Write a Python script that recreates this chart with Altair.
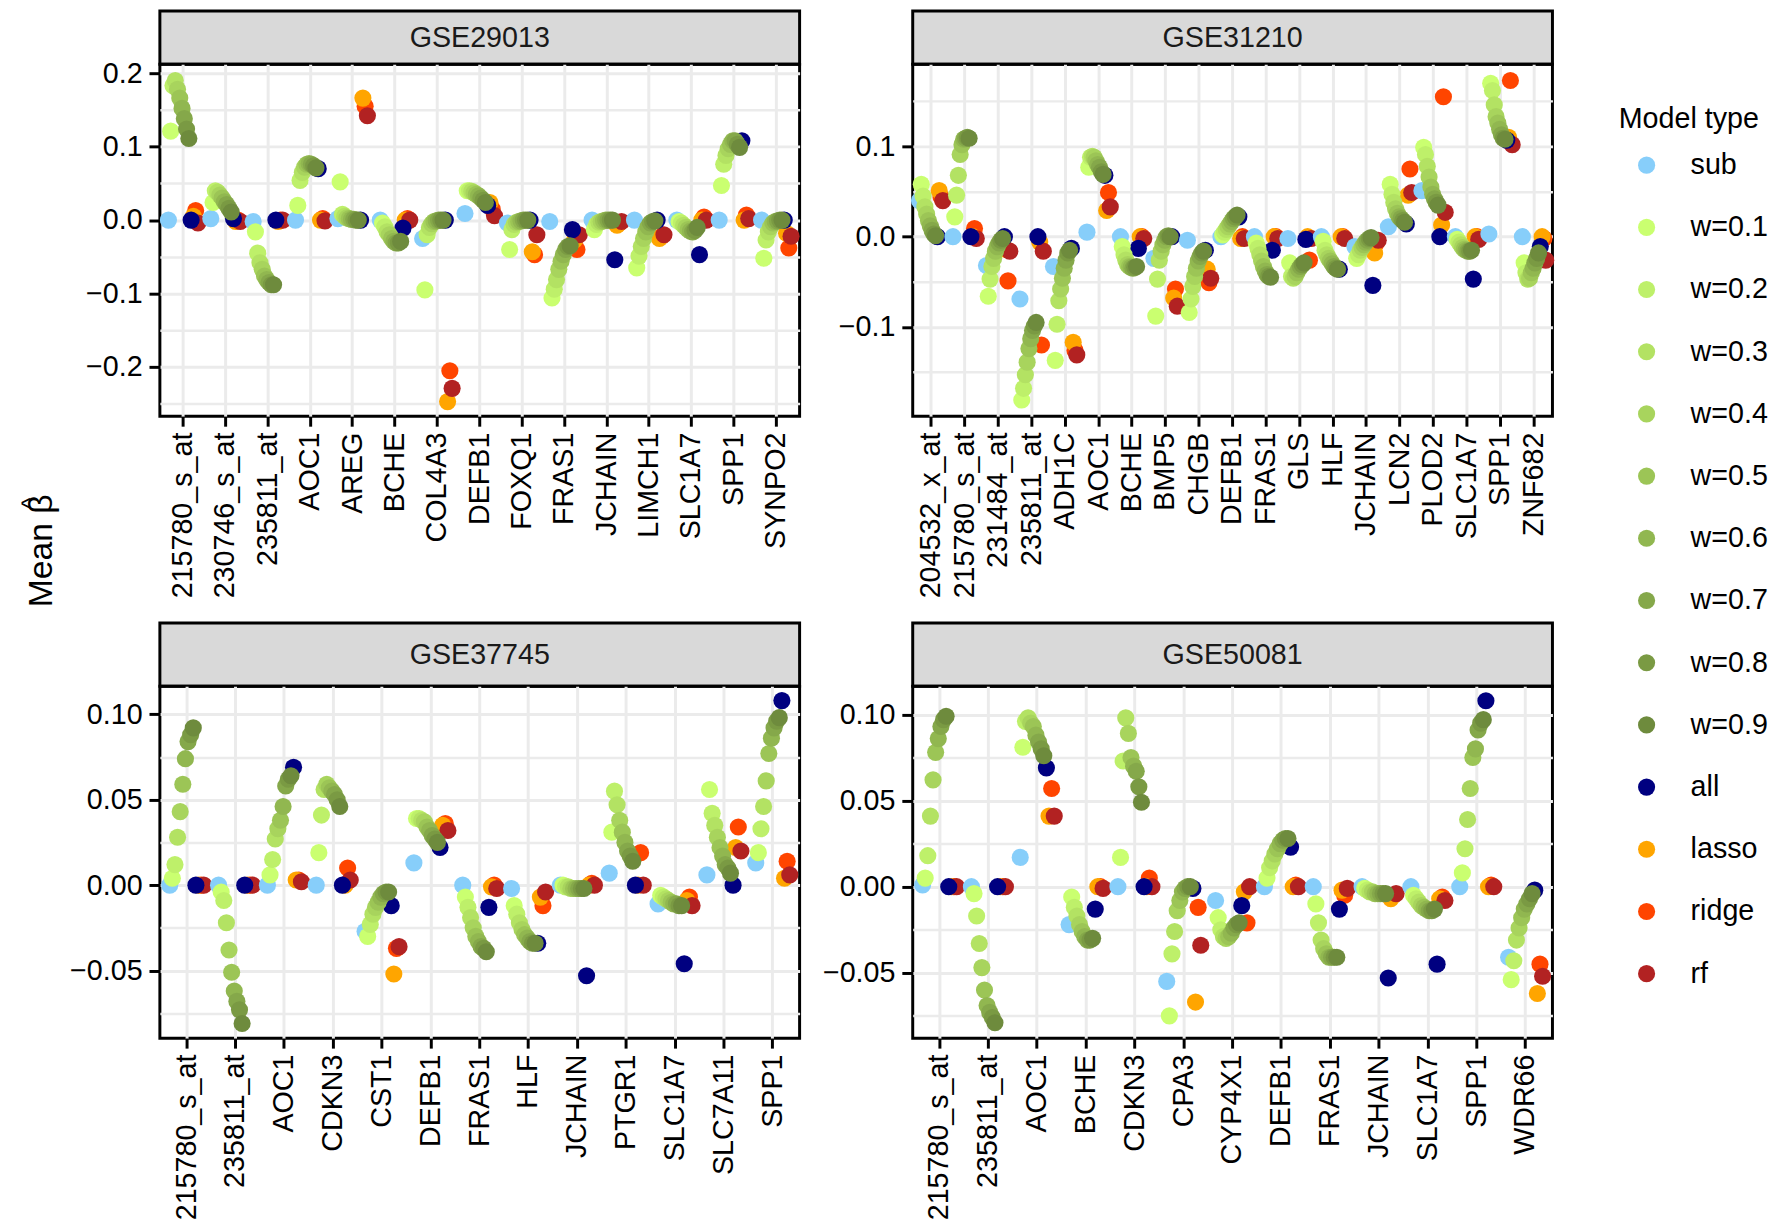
import json
import altair as alt
import pandas as pd

FONT = "Liberation Sans"

MODELS = ["sub", "w=0.1", "w=0.2", "w=0.3", "w=0.4", "w=0.5", "w=0.6", "w=0.7",
          "w=0.8", "w=0.9", "all", "lasso", "ridge", "rf"]
COLORS = ["#87CEFA", "#CAFF70", "#BEF06A", "#B3E263", "#A8D45D", "#9CC556", "#91B750",
          "#85A84A", "#7A9A43", "#6E8B3D", "#000080", "#FFA500", "#FF4500", "#B22222"]
DRAW_ORDER = ["ridge", "lasso", "rf", "all", "sub", "w=0.1", "w=0.2", "w=0.3", "w=0.4",
              "w=0.5", "w=0.6", "w=0.7", "w=0.8", "w=0.9"]

# ---- GSE29013 (values in MODELS order) ----
GSE29013_GENES = ["215780_s_at", "230746_s_at", "235811_at", "AOC1", "AREG", "BCHE", "COL4A3",
                  "DEFB1", "FOXQ1", "FRAS1", "JCHAIN", "LIMCH1", "SLC1A7", "SPP1", "SYNPO2"]
GSE29013_BETA = [
    [0.0, 0.121, 0.183, 0.19, 0.178, 0.166, 0.152, 0.138, 0.124, 0.111, 0.0, 0.005, 0.013, -0.004],
    [0.002, 0.024, 0.04, 0.038, 0.034, 0.03, 0.025, 0.021, 0.016, 0.011, 0.002, -0.002, 0.0, -0.002],
    [-0.002, -0.016, -0.045, -0.058, -0.067, -0.076, -0.081, -0.085, -0.088, -0.088, 0.0, -0.002, 0.0, 0.0],
    [0.0, 0.02, 0.054, 0.065, 0.072, 0.076, 0.077, 0.076, 0.074, 0.071, 0.07, 0.0, 0.002, -0.001],
    [0.002, 0.052, 0.008, 0.005, 0.003, 0.002, 0.001, 0.001, 0.0, 0.0, 0.0, 0.166, 0.155, 0.142],
    [0.0, -0.004, -0.009, -0.016, -0.02, -0.025, -0.029, -0.031, -0.031, -0.029, -0.011, 0.0, 0.002, 0.0],
    [-0.025, -0.095, -0.02, -0.01, -0.005, -0.002, -0.001, 0.0, 0.0, 0.0, 0.0, -0.247, -0.205, -0.229],
    [0.009, 0.04, 0.04, 0.039, 0.037, 0.035, 0.033, 0.03, 0.027, 0.024, 0.02, 0.024, 0.015, 0.006],
    [-0.004, -0.04, -0.013, -0.006, -0.003, -0.002, -0.001, 0.0, 0.0, 0.0, 0.0, -0.043, -0.047, -0.02],
    [-0.002, -0.106, -0.094, -0.081, -0.067, -0.056, -0.047, -0.04, -0.036, -0.035, -0.013, -0.027, -0.04, -0.02],
    [0.0, -0.013, -0.006, -0.003, -0.002, -0.001, 0.0, 0.0, 0.0, 0.0, -0.054, -0.007, -0.004, -0.002],
    [0.0, -0.065, -0.049, -0.036, -0.025, -0.016, -0.009, -0.004, -0.002, -0.001, 0.0, -0.025, -0.022, -0.02],
    [0.0, -0.002, -0.004, -0.007, -0.01, -0.013, -0.015, -0.016, -0.014, -0.01, -0.047, 0.0, 0.004, 0.0],
    [0.0, 0.047, 0.076, 0.088, 0.097, 0.103, 0.108, 0.108, 0.103, 0.099, 0.108, 0.0, 0.007, 0.002],
    [0.0, -0.052, -0.027, -0.016, -0.009, -0.004, -0.002, -0.001, 0.0, 0.0, 0.0, -0.018, -0.038, -0.022],
]

# ---- GSE31210 ----
GSE31210_GENES = ["204532_x_at", "215780_s_at", "231484_at", "235811_at", "ADH1C", "AOC1", "BCHE",
                  "BMP5", "CHGB", "DEFB1", "FRAS1", "GLS", "HLF", "JCHAIN", "LCN2", "PLOD2",
                  "SLC1A7", "SPP1", "ZNF682"]
GSE31210_BETA = [
    [0.04, 0.058, 0.045, 0.033, 0.025, 0.018, 0.012, 0.007, 0.003, 0.001, 0.0, 0.051, 0.044, 0.04],
    [0.0, 0.022, 0.046, 0.068, 0.091, 0.102, 0.108, 0.109, 0.11, 0.109, 0.0, 0.0, 0.009, -0.002],
    [-0.032, -0.066, -0.047, -0.033, -0.024, -0.016, -0.011, -0.007, -0.004, -0.002, 0.0, -0.014, -0.049, -0.016],
    [-0.069, -0.181, -0.168, -0.153, -0.139, -0.124, -0.113, -0.104, -0.099, -0.095, 0.0, -0.006, -0.12, -0.016],
    [-0.033, -0.137, -0.097, -0.071, -0.058, -0.046, -0.035, -0.026, -0.018, -0.015, -0.013, -0.117, -0.126, -0.131],
    [0.005, 0.077, 0.088, 0.089, 0.088, 0.084, 0.08, 0.077, 0.072, 0.069, 0.068, 0.029, 0.049, 0.033],
    [0.0, -0.011, -0.02, -0.026, -0.031, -0.033, -0.034, -0.035, -0.034, -0.033, -0.013, 0.0, 0.0, -0.002],
    [-0.024, -0.088, -0.047, -0.026, -0.016, -0.009, -0.004, 0.0, 0.001, 0.0, 0.0, -0.068, -0.058, -0.077],
    [-0.004, -0.084, -0.069, -0.055, -0.044, -0.035, -0.027, -0.022, -0.018, -0.016, -0.015, -0.036, -0.051, -0.046],
    [0.0, 0.002, 0.005, 0.008, 0.011, 0.014, 0.017, 0.02, 0.022, 0.024, 0.022, -0.002, 0.0, -0.002],
    [0.0, -0.007, -0.013, -0.02, -0.027, -0.033, -0.038, -0.042, -0.044, -0.045, -0.015, 0.0, 0.0, -0.002],
    [-0.002, -0.029, -0.044, -0.046, -0.044, -0.04, -0.036, -0.033, -0.031, -0.029, -0.003, 0.0, -0.026, -0.002],
    [0.0, -0.005, -0.015, -0.02, -0.024, -0.027, -0.03, -0.033, -0.035, -0.036, -0.036, 0.0, 0.0, -0.002],
    [-0.011, -0.024, -0.02, -0.015, -0.012, -0.009, -0.006, -0.004, -0.002, -0.001, -0.054, -0.018, -0.007, -0.004],
    [0.011, 0.058, 0.047, 0.038, 0.031, 0.026, 0.022, 0.02, 0.018, 0.016, 0.014, 0.046, 0.075, 0.049],
    [0.051, 0.099, 0.091, 0.078, 0.066, 0.055, 0.047, 0.042, 0.038, 0.035, 0.0, 0.013, 0.155, 0.027],
    [0.0, -0.003, -0.006, -0.009, -0.012, -0.014, -0.015, -0.016, -0.016, -0.015, -0.047, 0.0, 0.0, -0.003],
    [0.003, 0.17, 0.162, 0.146, 0.133, 0.126, 0.119, 0.113, 0.109, 0.108, 0.107, 0.11, 0.173, 0.102],
    [0.0, -0.029, -0.04, -0.047, -0.046, -0.04, -0.035, -0.029, -0.024, -0.018, -0.011, 0.0, -0.002, -0.026],
]

# ---- GSE37745 ----
GSE37745_GENES = ["215780_s_at", "235811_at", "AOC1", "CDKN3", "CST1", "DEFB1", "FRAS1", "HLF",
                  "JCHAIN", "PTGR1", "SLC1A7", "SLC7A11", "SPP1"]
GSE37745_BETA = [
    [0.0, 0.004, 0.012, 0.028, 0.043, 0.059, 0.074, 0.084, 0.088, 0.092, 0.0, 0.0, 0.0, 0.0],
    [0.0, -0.004, -0.009, -0.022, -0.038, -0.051, -0.062, -0.068, -0.073, -0.081, 0.0, 0.0, 0.0, 0.0],
    [0.0, 0.006, 0.015, 0.027, 0.033, 0.038, 0.046, 0.058, 0.062, 0.064, 0.069, 0.003, 0.003, 0.002],
    [0.0, 0.019, 0.041, 0.056, 0.059, 0.057, 0.055, 0.053, 0.05, 0.046, 0.0, 0.0, 0.01, 0.003],
    [-0.027, -0.03, -0.023, -0.017, -0.013, -0.01, -0.007, -0.005, -0.004, -0.004, -0.012, -0.052, -0.037, -0.036],
    [0.013, 0.039, 0.039, 0.038, 0.037, 0.034, 0.032, 0.029, 0.027, 0.025, 0.022, 0.035, 0.036, 0.032],
    [0.0, -0.007, -0.013, -0.019, -0.025, -0.03, -0.033, -0.036, -0.037, -0.039, -0.013, -0.001, 0.0, -0.002],
    [-0.002, -0.012, -0.017, -0.022, -0.026, -0.029, -0.031, -0.033, -0.034, -0.034, -0.034, -0.007, -0.012, -0.004],
    [0.0, 0.0, -0.001, -0.001, -0.002, -0.002, -0.002, -0.002, -0.002, -0.002, -0.053, 0.0, 0.001, 0.0],
    [0.007, 0.031, 0.055, 0.047, 0.038, 0.031, 0.025, 0.02, 0.017, 0.014, 0.0, 0.0, 0.019, 0.0],
    [-0.011, -0.006, -0.007, -0.008, -0.009, -0.01, -0.011, -0.011, -0.012, -0.012, -0.046, -0.009, -0.007, -0.012],
    [0.006, 0.056, 0.042, 0.035, 0.028, 0.022, 0.017, 0.012, 0.01, 0.007, 0.0, 0.022, 0.034, 0.02],
    [0.013, 0.019, 0.033, 0.046, 0.061, 0.077, 0.086, 0.092, 0.096, 0.098, 0.108, 0.004, 0.014, 0.006],
]

# ---- GSE50081 ----
GSE50081_GENES = ["215780_s_at", "235811_at", "AOC1", "BCHE", "CDKN3", "CPA3", "CYP4X1", "DEFB1",
                  "FRAS1", "JCHAIN", "SLC1A7", "SPP1", "WDR66"]
GSE50081_BETA = [
    [0.001, 0.005, 0.018, 0.041, 0.062, 0.078, 0.086, 0.093, 0.097, 0.099, 0.0, 0.0, 0.0, 0.0],
    [0.0, -0.004, -0.017, -0.033, -0.047, -0.06, -0.069, -0.073, -0.076, -0.079, 0.0, 0.0, 0.0, 0.0],
    [0.017, 0.081, 0.096, 0.098, 0.095, 0.093, 0.088, 0.084, 0.08, 0.076, 0.069, 0.041, 0.057, 0.041],
    [-0.022, -0.006, -0.012, -0.017, -0.022, -0.026, -0.029, -0.031, -0.031, -0.03, -0.013, 0.0, 0.0, -0.001],
    [0.0, 0.017, 0.073, 0.098, 0.089, 0.075, 0.07, 0.067, 0.058, 0.049, 0.0, 0.0, 0.005, 0.0],
    [-0.055, -0.075, -0.039, -0.026, -0.014, -0.008, -0.003, -0.001, 0.0, 0.0, -0.001, -0.067, -0.012, -0.034],
    [-0.008, -0.018, -0.025, -0.029, -0.03, -0.029, -0.027, -0.024, -0.022, -0.021, -0.011, -0.003, -0.021, 0.0],
    [0.0, 0.005, 0.011, 0.015, 0.019, 0.022, 0.025, 0.027, 0.028, 0.028, 0.023, 0.0, 0.001, 0.0],
    [0.0, -0.01, -0.021, -0.031, -0.036, -0.039, -0.041, -0.041, -0.041, -0.041, -0.013, -0.002, -0.005, -0.001],
    [0.0, -0.001, -0.002, -0.003, -0.003, -0.004, -0.004, -0.004, -0.004, -0.004, -0.053, -0.007, -0.005, -0.004],
    [0.0, -0.005, -0.007, -0.009, -0.011, -0.012, -0.013, -0.014, -0.014, -0.013, -0.045, -0.007, -0.006, -0.008],
    [0.0, 0.008, 0.022, 0.039, 0.057, 0.075, 0.08, 0.091, 0.095, 0.097, 0.108, 0.0, 0.001, 0.0],
    [-0.041, -0.054, -0.043, -0.031, -0.024, -0.018, -0.013, -0.01, -0.007, -0.004, -0.002, -0.062, -0.045, -0.052],
]

# axis ticks / limits per panel
GSE29013_YDOMAIN = [-0.267, 0.212]
GSE29013_YTICKS = [-0.2, -0.1, 0.0, 0.1, 0.2]
GSE29013_YMINOR = [-0.25, -0.15, -0.05, 0.05, 0.15]
GSE31210_YDOMAIN = [-0.199, 0.191]
GSE31210_YTICKS = [-0.1, 0.0, 0.1]
GSE31210_YMINOR = [-0.15, -0.05, 0.05, 0.15]
GSE37745_YDOMAIN = [-0.0896, 0.1164]
GSE37745_YTICKS = [-0.05, 0.0, 0.05, 0.1]
GSE37745_YMINOR = [-0.075, -0.025, 0.025, 0.075]
GSE50081_YDOMAIN = [-0.088, 0.1164]
GSE50081_YTICKS = [-0.05, 0.0, 0.05, 0.1]
GSE50081_YMINOR = [-0.075, -0.025, 0.025, 0.075]

Y_TITLE = "Mean \u03b2"
Y_TITLE_HAT = "^"

W = 647
H = 356
FS = 29

LEGEND = alt.Legend(
    title="Model type", orient="none", legendX=1627, legendY=95.5,
    titleFont=FONT, titleFontSize=FS, titleFontWeight="normal", titleColor="black",
    titlePadding=17, labelFont=FONT, labelFontSize=FS, labelColor="black",
    symbolType="circle", symbolSize=300, symbolOffset=13.7, labelOffset=30,
    rowPadding=32.9, padding=0, symbolStrokeWidth=0,
)


def make_panel(title, genes, rows, ydom, yticks, yminor, yfmt, hs, show_legend):
    recs = []
    for m in DRAW_ORDER:
        j = MODELS.index(m)
        for g, r in zip(genes, rows):
            recs.append({"gene": g, "model": m, "beta": r[j]})
    df = pd.DataFrame(recs)

    strip = alt.Chart(pd.DataFrame({"t": [title]})).mark_text(
        fontSize=FS, font=FONT, color="#1A1A1A"
    ).encode(
        text="t:N", x=alt.value(W / 2), y=alt.value(hs / 2 + 1)
    ).properties(
        width=W, height=hs,
        view=alt.ViewBackground(fill="#D9D9D9", stroke="black", strokeWidth=3),
    )

    test = "indexof(" + json.dumps(yticks) + ", datum.value) >= 0"
    yvals = sorted(yticks + yminor)
    yaxis = alt.Axis(
        title=None, values=yvals, format=yfmt,
        labelExpr=test + " ? datum.label : ''",
        grid=True, gridColor="#EBEBEB",
        gridWidth={"condition": {"test": test, "value": 3}, "value": 2.5},
        tickColor="black", tickWidth=3, tickSize=11,
        tickOpacity={"condition": {"test": test, "value": 1}, "value": 0},
        labelFont=FONT, labelFontSize=FS, labelColor="black", labelPadding=7,
        domain=False, labelOverlap=False,
    )

    pts = alt.Chart(df).mark_circle(size=300, opacity=1).encode(
        x=alt.X("gene:N", sort=genes,
                scale=alt.Scale(paddingInner=0.25, paddingOuter=0.175),
                axis=alt.Axis(title=None, labelAngle=-90, grid=True, gridColor="#EBEBEB",
                              gridWidth=3, tickColor="black", tickWidth=3, tickSize=10,
                              labelFont=FONT, labelFontSize=FS, labelColor="black",
                              labelPadding=6, domain=False, labelOverlap=False,
                              labelLimit=400, bandPosition=0.5)),
        xOffset=alt.XOffset("model:N", sort=MODELS, scale=alt.Scale(domain=MODELS)),
        y=alt.Y("beta:Q", scale=alt.Scale(domain=ydom, nice=False, zero=False), axis=yaxis),
        color=alt.Color("model:N", sort=MODELS,
                        scale=alt.Scale(domain=MODELS, range=COLORS),
                        legend=LEGEND if show_legend else None),
    ).properties(width=W, height=H)
    return alt.vconcat(strip, pts, spacing=0, bounds="flush").resolve_scale(
        xOffset="independent")


p1 = make_panel("GSE29013", GSE29013_GENES, GSE29013_BETA, GSE29013_YDOMAIN,
                GSE29013_YTICKS, GSE29013_YMINOR, ".1f", 54, True)
p2 = make_panel("GSE31210", GSE31210_GENES, GSE31210_BETA, GSE31210_YDOMAIN,
                GSE31210_YTICKS, GSE31210_YMINOR, ".1f", 54, False)
p3 = make_panel("GSE37745", GSE37745_GENES, GSE37745_BETA, GSE37745_YDOMAIN,
                GSE37745_YTICKS, GSE37745_YMINOR, ".2f", 64, False)
p4 = make_panel("GSE50081", GSE50081_GENES, GSE50081_BETA, GSE50081_YDOMAIN,
                GSE50081_YTICKS, GSE50081_YMINOR, ".2f", 64, False)

grid = alt.concat(p1, p2, p3, p4, columns=2, spacing={"row": 21, "column": 19.4}).resolve_scale(
    x="independent", y="independent", xOffset="independent", color="shared")

title_main = alt.Chart(pd.DataFrame({"t": [Y_TITLE]})).mark_text(
    angle=270, fontSize=34, font=FONT, color="black"
).encode(text="t:N", x=alt.value(32), y=alt.value(546))
title_hat = alt.Chart(pd.DataFrame({"t": [Y_TITLE_HAT]})).mark_text(
    angle=270, fontSize=24, font=FONT, color="black"
).encode(text="t:N", x=alt.value(21), y=alt.value(498))
ytitle = alt.layer(title_main, title_hat).properties(
    width=56, height=1000, view=alt.ViewBackground(stroke="transparent"))

chart = alt.hconcat(ytitle, grid, spacing=0.6).resolve_scale(
    color="shared", xOffset="independent"
).properties(
    padding={"top": -6, "left": 0, "right": 0, "bottom": 0}
).configure(font=FONT).configure_view(stroke="black", strokeWidth=3)

chart.save("out.html", embed_options={"renderer": "svg", "actions": False})
